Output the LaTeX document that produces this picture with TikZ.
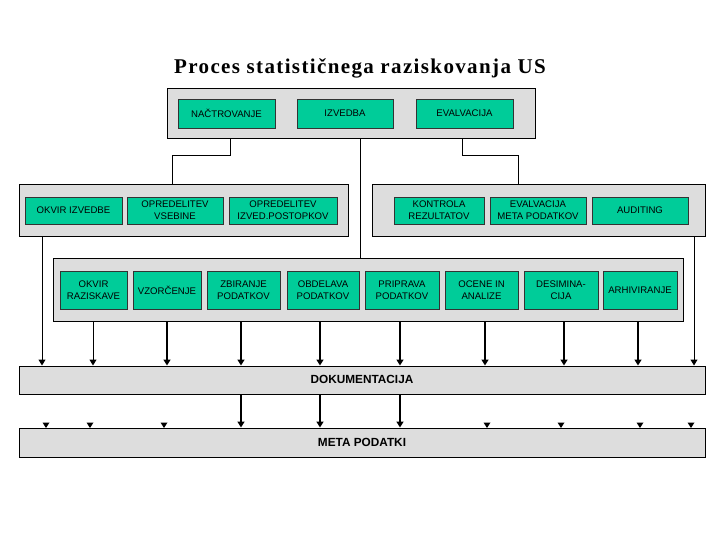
\documentclass[tikz,border=0pt]{standalone}
\usepackage{fontspec}
\setmainfont{Liberation Sans}
\newfontfamily\titlefont[LetterSpace=6.5]{Liberation Serif}
\usetikzlibrary{arrows.meta}
\definecolor{boxgreen}{RGB}{0,204,153}
\definecolor{boxgray}{RGB}{221,221,221}
\tikzset{
  grp/.style={draw=black, line width=1pt, fill=boxgray, rectangle, inner sep=0pt},
  act/.style={draw=black!80, line width=0.9pt, fill=boxgreen, rectangle, inner sep=0pt,
    align=center, font=\fontsize{9.6}{12}\selectfont},
  band/.style={grp, font=\bfseries\fontsize{11.8}{14}\selectfont},
  link/.style={line width=1pt},
  arr/.style={line width=1pt, -{Triangle[width=7pt,length=6pt]}},
  tarr/.style={line width=2pt, -{Triangle[width=7pt,length=6pt]}},
  tip/.style={fill=black}
}
\begin{document}
\begin{tikzpicture}[x=1pt,y=-1pt]
\useasboundingbox (0,0) rectangle (720,540);
% title
\node[anchor=base, inner sep=0pt, font=\titlefont\bfseries\fontsize{21}{24}\selectfont] (title) at (360,74) {Proces statističnega raziskovanja US};
% top group
\node[grp, minimum width=368pt, minimum height=50pt] (T) at (351,114) {};
\node[act, minimum width=97pt, minimum height=29pt] (nac) at (226.5,113.5) {NAČTROVANJE};
\node[act, minimum width=96pt, minimum height=29pt] (izv) at (345,113.5) {IZVEDBA};
\node[act, minimum width=97pt, minimum height=29pt] (eva) at (464.5,113.5) {EVALVACIJA};
% middle left group
\node[grp, minimum width=329pt, minimum height=51pt] (L1) at (183.5,210.5) {};
\node[act, minimum width=97pt, minimum height=27pt] (oki) at (73.5,210.5) {OKVIR IZVEDBE};
\node[act, minimum width=96pt, minimum height=27pt] (ops) at (175,210.5) {OPREDELITEV\\VSEBINE};
\node[act, minimum width=108pt, minimum height=27pt] (opi) at (283,210.5) {OPREDELITEV\\IZVED.POSTOPKOV};
% middle right group
\node[grp, minimum width=333pt, minimum height=51pt] (R1) at (538.5,210.5) {};
\node[act, minimum width=90pt, minimum height=27pt] (kon) at (439,210.5) {KONTROLA\\REZULTATOV};
\node[act, minimum width=96pt, minimum height=27pt] (emp) at (538,210.5) {EVALVACIJA\\META PODATKOV};
\node[act, minimum width=96pt, minimum height=27pt] (aud) at (640,210.5) {AUDITING};
% bottom group
\node[grp, minimum width=630pt, minimum height=63pt] (B) at (368,289.5) {};
\node[act, minimum width=67pt, minimum height=38pt] (okr) at (93.5,290) {OKVIR\\RAZISKAVE};
\node[act, minimum width=68pt, minimum height=38pt] (vzo) at (167,290) {VZORČENJE};
\node[act, minimum width=73pt, minimum height=38pt] (zbi) at (243.5,290) {ZBIRANJE\\PODATKOV};
\node[act, minimum width=72pt, minimum height=38pt] (obd) at (323,290) {OBDELAVA\\PODATKOV};
\node[act, minimum width=74pt, minimum height=38pt] (pri) at (402,290) {PRIPRAVA\\PODATKOV};
\node[act, minimum width=73pt, minimum height=38pt] (oce) at (481.5,290) {OCENE IN\\ANALIZE};
\node[act, minimum width=74pt, minimum height=38pt] (des) at (561,290) {DESIMINA-\\CIJA};
\node[act, minimum width=74pt, minimum height=38pt] (arh) at (640,290) {ARHIVIRANJE};
% bands
\node[band, minimum width=686pt, minimum height=28pt, text depth=0pt] (dok) at (362,380) {\raisebox{1.5pt}{DOKUMENTACIJA}};
\node[band, minimum width=686pt, minimum height=29pt] (meta) at (362,442.5) {META PODATKI};
% connectors from top group
\draw[link] (T.south -| 230,0) -- (230,156) -| (L1.north -| 172,0);
\draw[link] (T.south -| 360,0) -- (B.north -| 360,0);
\draw[link] (T.south -| 462,0) -- (462,156) -| (R1.north -| 518,0);
% to documentation
\draw[arr] (L1.south -| 42,0) -- (dok.north -| 42,0);
\draw[arr] (R1.south -| 694,0) -- (dok.north -| 694,0);
\draw[arr] (B.south -| 93,0) -- (dok.north -| 93,0);
\foreach \x in {167,241,320,400,485,564,638}
  \draw[tarr] (B.south -| \x,0) -- (dok.north -| \x,0);
% documentation to meta data
\foreach \x in {241,320,400}
  \draw[tarr] (dok.south -| \x,0) -- (meta.north -| \x,0);
% lone arrow heads on meta data
\foreach \x in {46,90,164,487,561,640,691}
  \fill[tip] (\x-3.5,422.5) -- (\x+3.5,422.5) -- (\x,428) -- cycle;
\end{tikzpicture}
\end{document}
